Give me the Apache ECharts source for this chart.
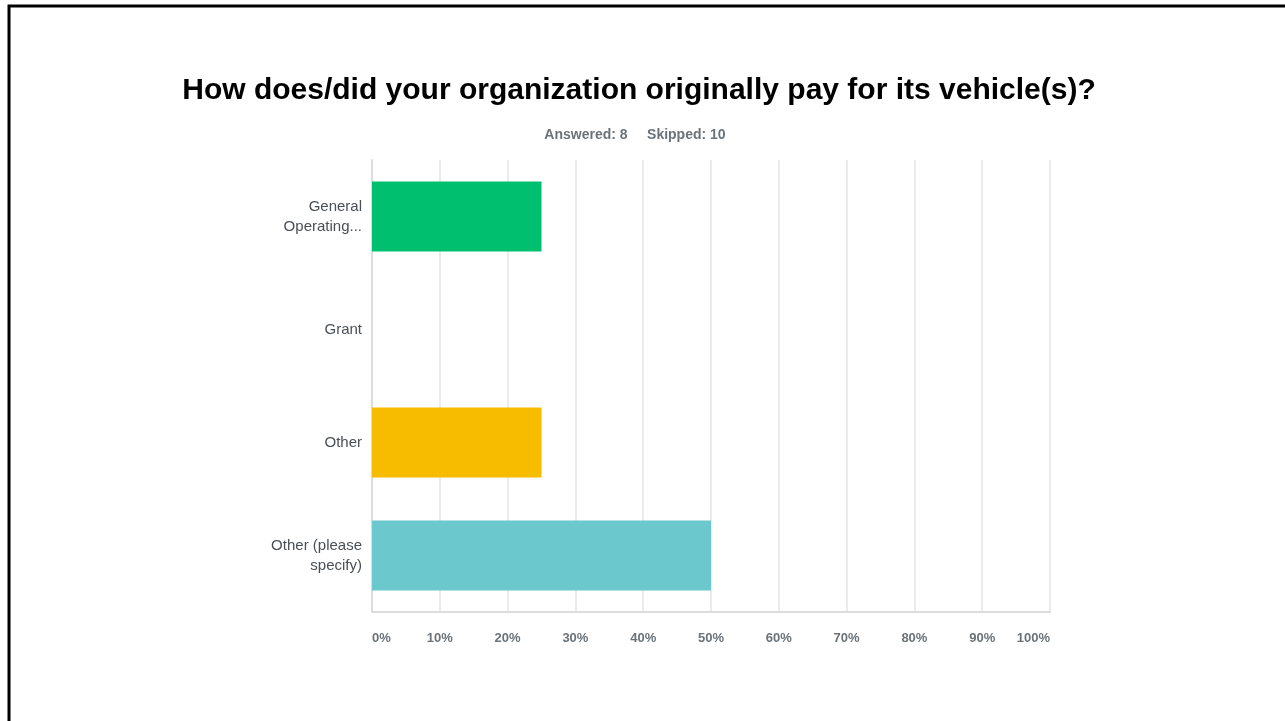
<!DOCTYPE html>
<html>
<head>
<meta charset="utf-8">
<script src="https://cdn.jsdelivr.net/npm/echarts@6/dist/echarts.min.js"></script>
<style>
html,body{margin:0;padding:0;background:#fff;}
#chart{width:1285px;height:721px;}
</style>
</head>
<body>
<div id="chart"></div>
<script>
var categories=['General\nOperating...','Grant','Other','Other (please\nspecify)'];
var values=[25,0,25,50];
var barColors=['#00bf6f','#f7bc00','#f7bc00','#6bc8cd'];
var tickValues=[0,10,20,30,40,50,60,70,80,90,100];

function init(){
	var myChart=echarts.init(document.getElementById('chart'));
	var option={
		backgroundColor:'#fff',
		title:[{
			text:'How does/did your organization originally pay for its vehicle(s)?',
			left:634,
			top:71,
			textAlign:'center',
			textStyle:{
				color:'#000',
				fontFamily:'Liberation Sans',
				fontWeight:'bold',
				fontSize:30
			}
		},{
			text:'Answered: 8     Skipped: 10',
			left:630,
			top:123,
			textAlign:'center',
			textStyle:{
				color:'#6b7379',
				fontFamily:'Liberation Sans',
				fontWeight:'bold',
				fontSize:14
			}
		}],
		graphic:[{
			type:'rect',
			shape:{x:9,y:6,width:1400,height:900},
			style:{fill:'none',stroke:'#000',lineWidth:3},
			silent:true
		}],
		grid:{left:372,right:235,top:160,bottom:109},
		xAxis:{
			type:'value',
			min:0,
			max:100,
			interval:10,
			axisLine:{show:true,lineStyle:{color:'#dcdcdc',width:2}},
			axisTick:{show:false},
			splitLine:{show:true,lineStyle:{color:'#ebebeb',width:2}},
			axisLabel:{
				margin:20,
				color:'#6b7379',
				fontFamily:'Liberation Sans',
				fontWeight:'bold',
				fontSize:13,
				alignMinLabel:'left',
				alignMaxLabel:'right',
				formatter:function(v){return v+'%';}
			}
		},
		yAxis:{
			type:'category',
			inverse:true,
			data:categories,
			axisLine:{show:true,lineStyle:{color:'#dcdcdc',width:2}},
			axisTick:{show:false},
			axisLabel:{
				margin:10,
				color:'#4a4f55',
				fontFamily:'Liberation Sans',
				fontSize:15,
				lineHeight:20,
				align:'right'
			}
		},
		series:[{
			type:'bar',
			barWidth:70,
			data:values.map(function(v,i){
				return {value:v,itemStyle:{color:barColors[i]}};
			}),
			silent:true
		}]
	};
	myChart.setOption(option);
}
init();
</script>
</body>
</html>
